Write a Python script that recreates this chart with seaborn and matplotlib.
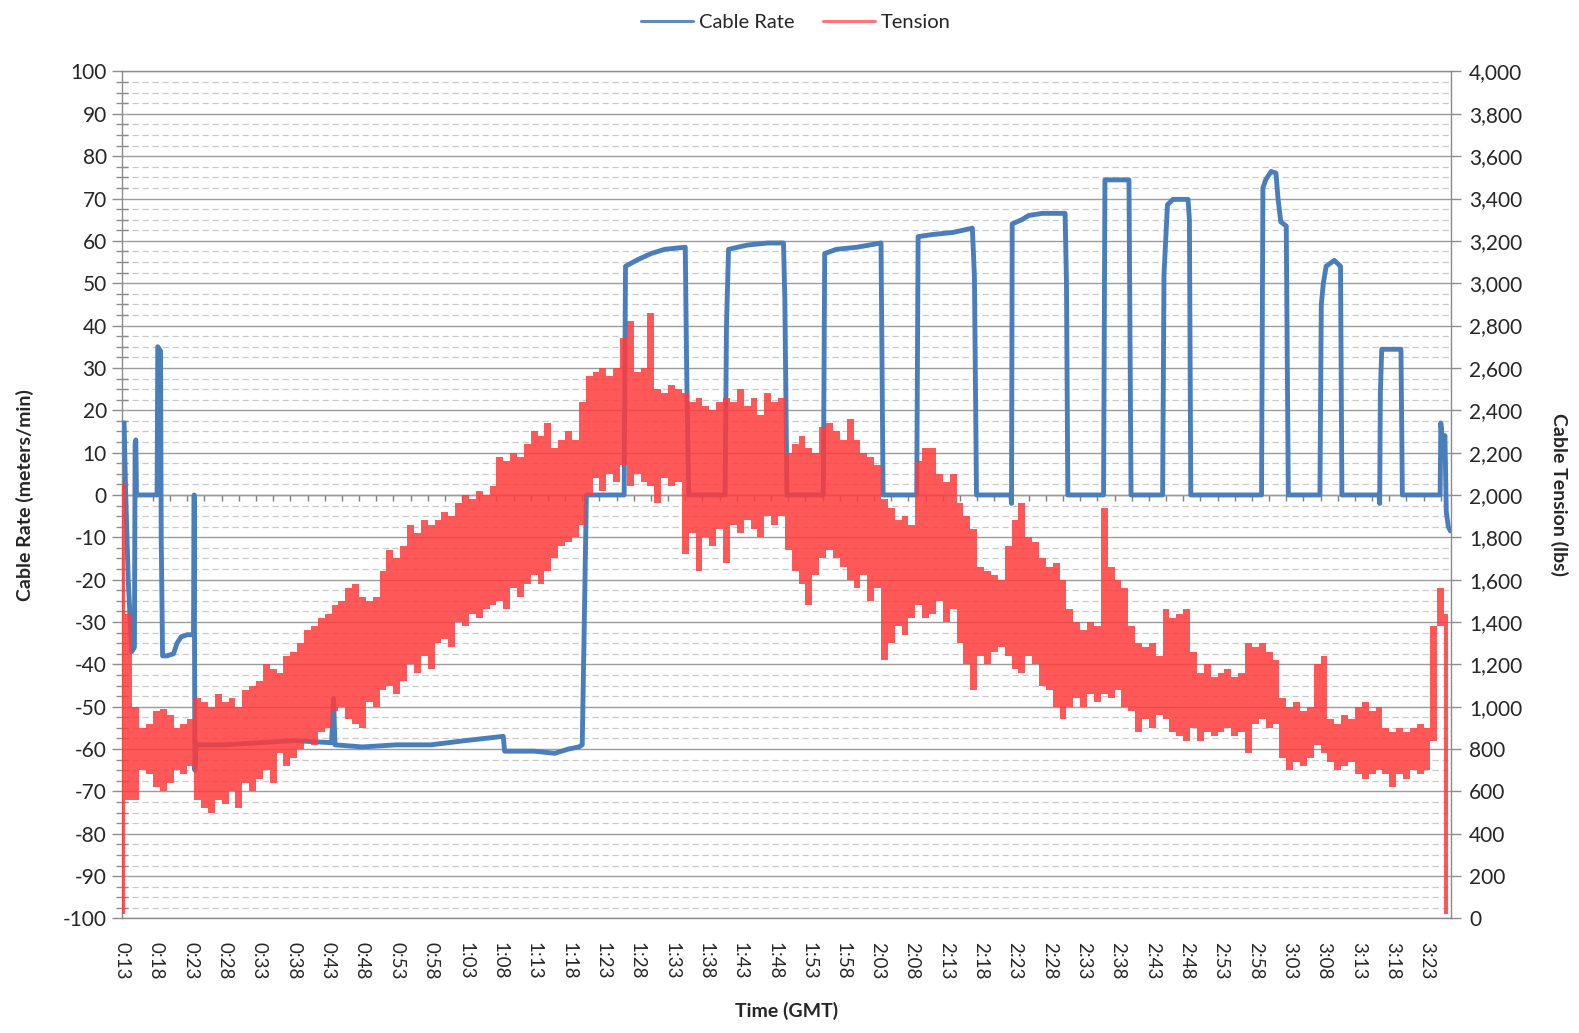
import numpy as np
import pandas as pd
import matplotlib
matplotlib.use("Agg")
import matplotlib.pyplot as plt
import seaborn as sns
from matplotlib.ticker import MultipleLocator, FuncFormatter, NullFormatter
from matplotlib.lines import Line2D

# ---------------------------------------------------------------------------
# Cable rate (meters/min) against time, in minutes after 0:00 GMT
# ---------------------------------------------------------------------------
rate_minutes = [
    13.0, 13.3, 13.5, 13.9, 14.4, 14.8, 14.9, 15.0, 15.1, 18.1,
    18.2, 18.6, 18.7, 18.9, 19.5, 20.5, 21.0, 21.6, 22.5, 23.4,
    23.5, 23.6, 23.8, 28.0, 33.0, 38.0, 43.5, 43.8, 44.0, 48.0,
    53.0, 58.0, 63.0, 68.5, 68.7, 73.0, 76.0, 78.0, 79.5, 80.0,
    80.3, 80.6, 86.1, 86.3, 88.0, 90.0, 92.0, 95.0, 95.2, 95.5,
    100.8, 101.0, 101.3, 104.0, 107.0, 109.3, 109.5, 109.8, 115.1, 115.3,
    117.0, 120.0, 123.5, 123.8, 128.7, 128.9, 131.0, 134.0, 136.8, 137.1,
    137.4, 142.4, 142.5, 142.6, 144.0, 145.0, 147.0, 150.3, 150.5, 150.7,
    155.9, 156.1, 159.6, 159.9, 164.5, 164.7, 165.2, 166.0, 168.2, 168.4,
    168.6, 178.9, 179.1, 179.5, 180.3, 181.0, 181.3, 181.7, 182.5, 182.8,
    187.4, 187.6, 187.9, 188.3, 189.5, 190.4, 190.6, 196.0, 196.1, 196.2,
    196.4, 199.2, 199.4, 204.9, 205.0, 205.3, 205.6, 205.8, 206.1, 206.4,
]
rate_values = [
    17, 17, 2, -20, -37, -36, 12, 13, 0, 0,
    35, 34, -10, -38, -38, -37.5, -35, -33.5, -33, -33,
    0, -65, -59, -59, -58.5, -58, -58.5, -48, -59, -59.5,
    -59, -59, -58, -57, -60.5, -60.5, -61, -60, -59.5, -59,
    -30, 0, 0, 54, 55.5, 57, 58, 58.5, 30, 0,
    0, 40, 58, 59, 59.5, 59.5, 46, 0, 0, 57,
    58, 58.5, 59.5, 0, 0, 61, 61.5, 62, 63, 51.5,
    0, 0, -2, 64, 65, 66, 66.5, 66.5, 50, 0,
    0, 74.4, 74.4, 0, 0, 52, 68.5, 69.8, 69.8, 65,
    0, 0, 72.5, 74.4, 76.4, 76, 70, 64.5, 63.5, 0,
    0, 45, 50, 54, 55.4, 54, 0, 0, -2, 24,
    34.4, 34.4, 0, 0, 17, 12, 14, -4, -7.5, -8.5,
]

# ---------------------------------------------------------------------------
# Cable tension (lbs): highest and lowest reading in each minute, 0:13 .. 3:26
# ---------------------------------------------------------------------------
tension_first_minute = 13
tension_high = [
    2050, 1440, 1000, 900, 920, 980, 990, 960, 900, 920,
    940, 1040, 1020, 1000, 1060, 1020, 1040, 1000, 1080, 1100,
    1120, 1200, 1180, 1160, 1240, 1260, 1300, 1360, 1380, 1420,
    1440, 1480, 1500, 1560, 1580, 1520, 1500, 1520, 1640, 1740,
    1700, 1760, 1860, 1820, 1880, 1860, 1880, 1920, 1900, 1960,
    2000, 1980, 2020, 2000, 2040, 2180, 2160, 2200, 2180, 2240,
    2300, 2280, 2340, 2220, 2260, 2300, 2260, 2440, 2560, 2580,
    2600, 2560, 2600, 2740, 2820, 2580, 2600, 2860, 2500, 2480,
    2520, 2500, 2480, 2440, 2460, 2420, 2400, 2440, 2460, 2440,
    2500, 2420, 2460, 2380, 2480, 2440, 2460, 2200, 2240, 2280,
    2220, 2200, 2320, 2340, 2300, 2260, 2360, 2260, 2200, 2180,
    2140, 1980, 1940, 1880, 1900, 1860, 2160, 2220, 2220, 2100,
    2060, 2100, 1960, 1900, 1840, 1660, 1640, 1620, 1600, 1760,
    1880, 1960, 1800, 1780, 1700, 1660, 1680, 1600, 1460, 1400,
    1360, 1400, 1380, 1940, 1660, 1600, 1560, 1380, 1300, 1280,
    1300, 1240, 1460, 1420, 1440, 1460, 1260, 1160, 1200, 1140,
    1160, 1180, 1140, 1160, 1300, 1280, 1300, 1260, 1220, 1040,
    1000, 1020, 980, 1000, 1200, 1240, 940, 920, 960, 940,
    1000, 1020, 980, 1000, 900, 880, 900, 880, 900, 920,
    900, 1380, 1560, 1440,
]
tension_low = [
    20, 560, 560, 700, 680, 620, 600, 640, 700, 680,
    720, 560, 520, 500, 560, 540, 600, 520, 640, 600,
    660, 700, 640, 780, 720, 760, 800, 840, 820, 880,
    900, 980, 1000, 940, 920, 900, 1020, 1000, 1080, 1100,
    1060, 1120, 1200, 1160, 1240, 1180, 1300, 1320, 1280, 1400,
    1380, 1440, 1420, 1460, 1480, 1500, 1460, 1560, 1520, 1580,
    1620, 1580, 1640, 1700, 1760, 1780, 1800, 1860, 2000, 2080,
    2020, 2100, 2060, 2140, 2040, 2100, 2060, 2040, 1960, 2080,
    2040, 2060, 1720, 1820, 1640, 1800, 1760, 1840, 1680, 1860,
    1820, 1880, 1840, 1800, 1900, 1860, 1900, 1740, 1640, 1580,
    1480, 1620, 1700, 1740, 1700, 1660, 1600, 1560, 1620, 1500,
    1560, 1220, 1300, 1380, 1340, 1420, 1480, 1420, 1440, 1500,
    1400, 1460, 1300, 1200, 1080, 1240, 1200, 1260, 1280, 1240,
    1180, 1160, 1240, 1200, 1100, 1080, 1000, 940, 1000, 1040,
    1000, 1060, 1020, 1060, 1040, 1080, 1000, 980, 880, 940,
    900, 960, 940, 880, 860, 840, 900, 840, 880, 860,
    880, 900, 860, 880, 780, 920, 940, 900, 920, 760,
    700, 740, 720, 760, 820, 780, 740, 700, 720, 740,
    680, 660, 680, 700, 680, 620, 680, 660, 700, 680,
    700, 840, 1380, 20,
]

# Axis ranges and tick labels
rate_limits = (-100, 100)
tension_limits = (0, 4000)
time_tick_minutes = list(range(13, 204, 5))
time_tick_labels = [f"{m // 60}:{m % 60:02d}" for m in time_tick_minutes]

rate_df = pd.DataFrame({"minute": rate_minutes, "rate": rate_values})
tension_minutes = np.arange(tension_first_minute,
                            tension_first_minute + len(tension_high))

# ---------------------------------------------------------------------------
# Styling
# ---------------------------------------------------------------------------
sns.set_style("white")
plt.rcParams["font.family"] = ["Lato", "DejaVu Sans"]
plt.rcParams["axes.unicode_minus"] = False
plt.rcParams["axes.linewidth"] = 1.0

BLUE = "#4A7EBB"
RED = "#FF3B3B"
AXIS_GREY = "#8C8C8C"
TEXT = "#262626"

fig = plt.figure(figsize=(15.79, 10.33), dpi=100)
ax = fig.add_axes([0.0773, 0.1109, 0.8417, 0.8199])

sns.lineplot(data=rate_df, x="minute", y="rate", ax=ax, color=BLUE,
             linewidth=3.5, estimator=None, sort=False, legend=False, zorder=3)

ax.set_xlim(13, 206.5)
ax.set_ylim(*rate_limits)

# Horizontal gridlines: solid at every 10, dashed at every 2.5
ax.yaxis.set_major_locator(MultipleLocator(10))
ax.yaxis.set_minor_locator(MultipleLocator(2.5))
ax.grid(which="major", axis="y", color="#9C9C9C", linewidth=1.0)
ax.grid(which="minor", axis="y", color="#C8C8C8", linewidth=0.9,
        linestyle=(0, (5, 3)))
ax.grid(which="both", axis="x", visible=False)
ax.set_axisbelow(True)

for side in ("left", "top", "bottom"):
    ax.spines[side].set_color(AXIS_GREY)
ax.spines["right"].set_visible(False)

ax.tick_params(axis="y", which="major", direction="out", length=7,
               width=1, color=AXIS_GREY, labelsize=15, labelcolor=TEXT, pad=4)
ax.tick_params(axis="y", which="minor", direction="inout", length=8,
               width=1, color=AXIS_GREY)

ax.set_xticks(time_tick_minutes)
ax.set_xticklabels(time_tick_labels)
ax.tick_params(axis="x", which="both", length=0, pad=17, labelsize=13.5,
               labelcolor=TEXT, labelrotation=-90)

# Category axis crossing at zero, with small tick marks every 2.5 minutes
zero_axis = ax.secondary_xaxis(0.5)
for sp in zero_axis.spines.values():
    sp.set_color("#7F7F7F")
zero_axis.xaxis.set_major_locator(MultipleLocator(2.5))
zero_axis.xaxis.set_major_formatter(NullFormatter())
zero_axis.tick_params(axis="x", which="both", direction="in", length=4,
                      width=1, color="#7F7F7F", labeltop=False,
                      labelbottom=False)

ax.set_ylabel("Cable Rate (meters/min)", fontsize=14, fontweight="bold",
              color=TEXT)
ax.yaxis.set_label_coords(-0.066, 0.5)
ax.set_xlabel("Time (GMT)", fontsize=14, fontweight="bold", color=TEXT)
ax.xaxis.set_label_coords(0.5, -0.098)

# Tension on the secondary axis, drawn over the cable rate: each minute is
# a band spanning its lowest to highest reading
ax2 = ax.twinx()
ax2.fill_between(tension_minutes, tension_low, tension_high, step="mid",
                 color=RED, alpha=0.85, linewidth=0)
ax2.set_ylim(*tension_limits)
ax2.set_xlim(13, 206.5)
ax2.yaxis.set_major_locator(MultipleLocator(200))
ax2.yaxis.set_major_formatter(FuncFormatter(lambda v, p: f"{int(v):,}"))
ax2.tick_params(axis="y", which="major", direction="out", length=7, width=1,
                color=AXIS_GREY, labelsize=15, labelcolor=TEXT, pad=6)
for side in ("left", "top", "bottom"):
    ax2.spines[side].set_visible(False)
ax2.spines["right"].set_color(AXIS_GREY)
ax2.grid(False)
ax2.set_ylabel("Cable Tension (lbs)", fontsize=14, fontweight="bold",
               color=TEXT, rotation=270, va="center")
ax2.yaxis.set_label_coords(1.081, 0.5)

handles = [
    Line2D([], [], color=BLUE, linewidth=2.2, alpha=0.9),
    Line2D([], [], color=RED, linewidth=2.2, alpha=0.7),
]
fig.legend(handles, ["Cable Rate", "Tension"], loc="center",
           bbox_to_anchor=(0.504, 0.978), ncol=2, frameon=False,
           fontsize=14.5, handlelength=2.6, handletextpad=0.3,
           columnspacing=1.4, labelcolor=TEXT)

fig.savefig("out.png", dpi=100, facecolor="white")
